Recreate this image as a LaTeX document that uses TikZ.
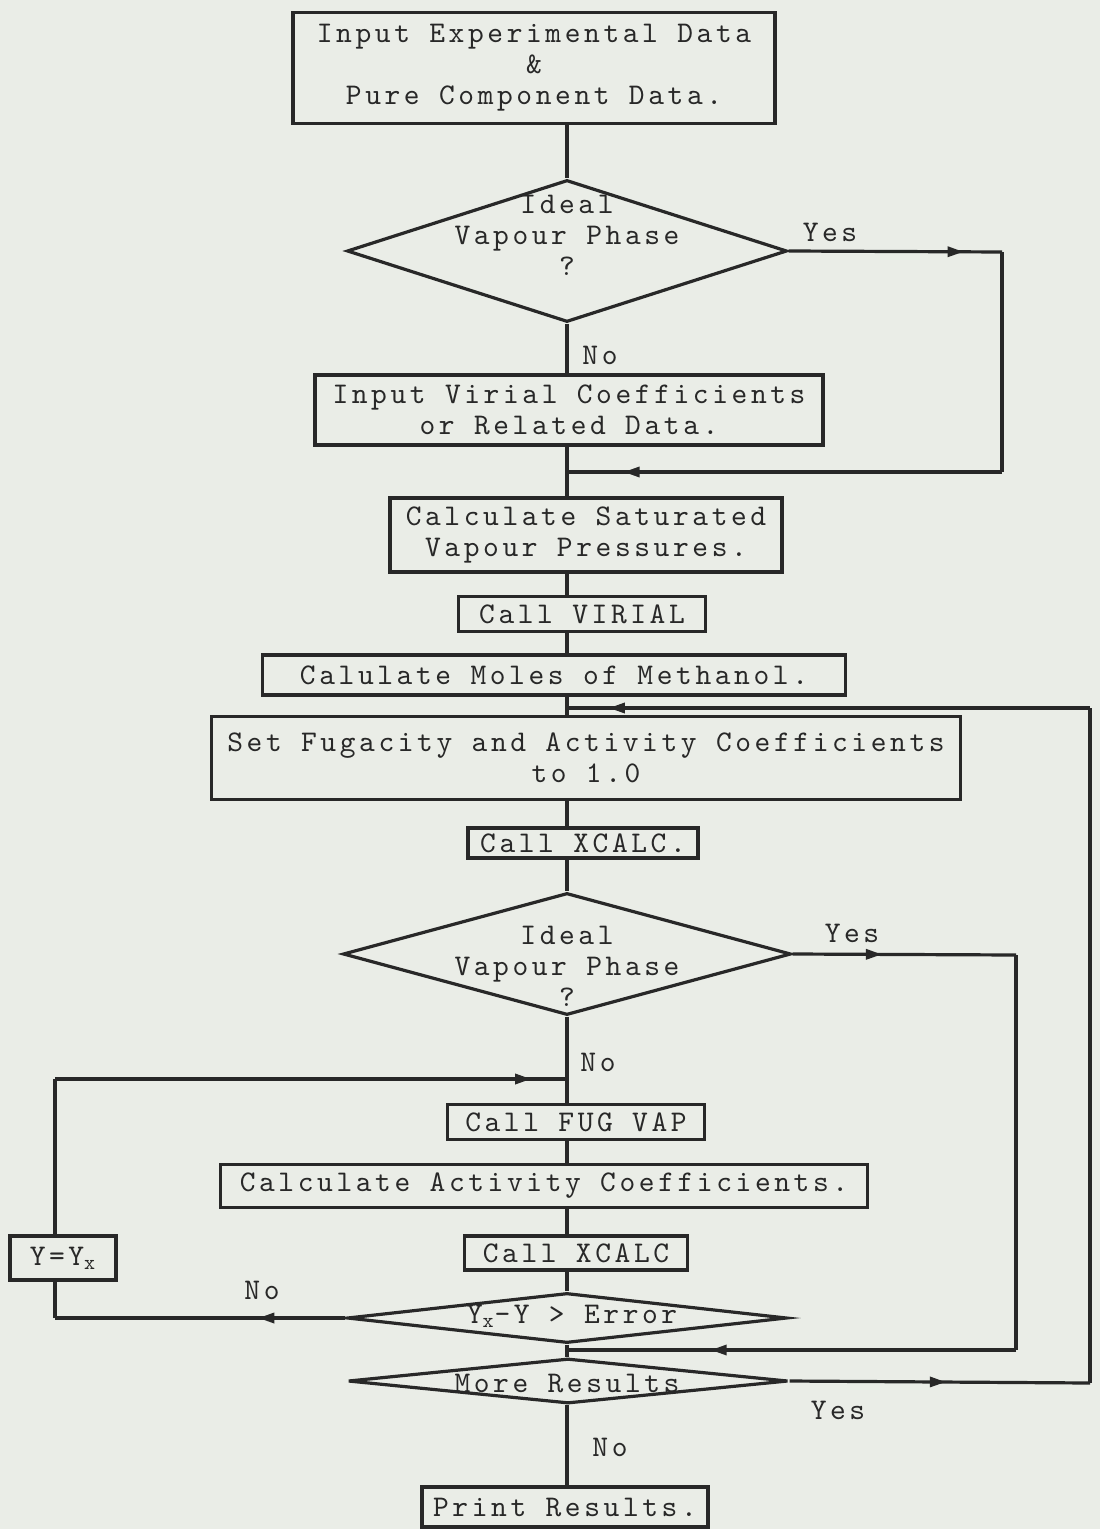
\documentclass[tikz,border=0pt]{standalone}
\usepackage{fontspec}
\setmonofont{lmmono10-regular.otf}[LetterSpace=12]
\usetikzlibrary{shapes.geometric,arrows.meta,decorations.markings}

\definecolor{paper}{RGB}{234,237,231}
\definecolor{ink}{RGB}{40,40,40}

\tikzset{
  every node/.style={font=\ttfamily\fontsize{15}{15.5}\selectfont, text=ink, align=center},
  box/.style={draw=ink, line width=1.6pt, rectangle, inner sep=0pt},
  decision/.style={draw=ink, line width=1.6pt, diamond, inner sep=0pt},
  flow/.style={draw=ink, line width=1.6pt},
  midarrow/.style={postaction={decorate}, decoration={markings,
    mark=at position #1 with {\arrow{Triangle[width=5pt,length=8pt]}}}},
}

\begin{document}
\begin{tikzpicture}[x=0.5pt,y=0.5pt,yscale=-1,xscale=1]
%Paper
\fill[paper] (0,0) rectangle (1100,1529);
\useasboundingbox (0,0) rectangle (1100,1529);
\coordinate (spine) at (567,0);

%Boxes
\node[box, minimum width=241pt, minimum height=55.5pt] (input) at (534,68) {Input Experimental Data\\\&\\Pure Component Data.};
\node[decision, minimum width=220pt, minimum height=71pt] (ideal1) at (567,251) {};
\node (ideal1txt) at (567,235) {Ideal\\Vapour Phase\\?};
\node[box, minimum width=254pt, minimum height=35pt] (virin) at (569,410) {Input Virial Coefficients\\or Related Data.};
\node[box, minimum width=196pt, minimum height=37pt] (satvp) at (586,535) {Calculate Saturated\\Vapour Pressures.};
\node[box, minimum width=123.5pt, minimum height=17.5pt] (virial) at (582,614) {Call VIRIAL};
\node[box, minimum width=291.5pt, minimum height=20pt] (moles) at (554,675) {Calulate Moles of Methanol.};
\node[box, minimum width=374.5pt, minimum height=41.5pt] (setfug) at (586,758) {Set Fugacity and Activity Coefficients\\to 1.0};
\node[box, minimum width=115pt, minimum height=15pt] (xcalc1) at (583,843) {Call XCALC.};
\node[decision, minimum width=224pt, minimum height=61pt] (ideal2) at (567,954) {};
\node (ideal2txt) at (567,966) {Ideal\\Vapour Phase\\?};
\node[box, minimum width=128.5pt, minimum height=17.5pt] (fugvap) at (576,1122) {Call FUG VAP};
\node[box, minimum width=323.5pt, minimum height=21.5pt] (activ) at (544,1186) {Calculate Activity Coefficients.};
\node[box, minimum width=111.5pt, minimum height=17pt] (xcalc2) at (576,1253) {Call XCALC};
\node[decision, minimum width=220pt, minimum height=25pt] (error) at (567,1318) {};
\node (errortxt) at (572,1316) {Y\textsubscript{x}-Y > Error};
\node[decision, minimum width=220pt, minimum height=22.5pt] (more) at (568,1381) {};
\node (moretxt) at (567,1383) {More Results};
\node[box, minimum width=143pt, minimum height=20pt] (print) at (565,1507) {Print Results.};
\node[box, minimum width=53pt, minimum height=22pt] (yset) at (63,1258) {Y=Y\textsubscript{x}};

%Labels
\node (yes1) at (830,232) {Yes};
\node (no1) at (600,355) {No};
\node (yes2) at (852,933) {Yes};
\node (no2) at (598,1062) {No};
\node (no3) at (262,1290) {No};
\node (yes3) at (838,1410) {Yes};
\node (no4) at (610,1447) {No};

%Corners and joins
\coordinate (c1) at (1002,252);
\coordinate (c2) at (1002,472);
\coordinate (j1) at (567,472);
\coordinate (c3) at (1016,955);
\coordinate (c4) at (1016,1350);
\coordinate (j4) at (567,1350);
\coordinate (c5) at (1090,1383);
\coordinate (c6) at (1090,708);
\coordinate (j2) at (567,708);
\coordinate (c7) at (55,1318);
\coordinate (c8) at (55,1079);
\coordinate (j3) at (567,1079);

%Main line
\draw[flow] (input.south -| spine) -- (ideal1.north);
\draw[flow] (ideal1.south) -- (virin.north -| spine);
\draw[flow] (virin.south -| spine) -- (satvp.north -| spine);
\draw[flow] (satvp.south -| spine) -- (virial.north -| spine);
\draw[flow] (virial.south -| spine) -- (moles.north -| spine);
\draw[flow] (moles.south -| spine) -- (setfug.north -| spine);
\draw[flow] (setfug.south -| spine) -- (xcalc1.north -| spine);
\draw[flow] (xcalc1.south -| spine) -- (ideal2.north);
\draw[flow] (ideal2.south) -- (fugvap.north -| spine);
\draw[flow] (fugvap.south -| spine) -- (activ.north -| spine);
\draw[flow] (activ.south -| spine) -- (xcalc2.north -| spine);
\draw[flow] (xcalc2.south -| spine) -- (error.north);
\draw[flow] (error.south) -- (more.north -| error.south);
\draw[flow] (more.south -| spine) -- (print.north -| spine);

%Yes from first test
\draw[flow, midarrow=0.82] (ideal1.east) -- (c1);
\draw[flow] (c1) -- (c2);
\draw[flow, midarrow=0.87] (c2) -- (j1);

%Yes from second test
\draw[flow, midarrow=0.4] (ideal2.east) -- (c3);
\draw[flow] (c3) -- (c4);
\draw[flow, midarrow=0.68] (c4) -- (j4);

%No from error test
\draw[flow, midarrow=0.3] (error.west) -- (c7);
\draw[flow] (c7) -- (yset.south -| c7);
\draw[flow] (yset.north -| c7) -- (c8);
\draw[flow, midarrow=0.93] (c8) -- (j3);

%More results
\draw[flow, midarrow=0.52] (more.east) -- (c5);
\draw[flow] (c5) -- (c6);
\draw[flow, midarrow=0.92] (c6) -- (j2);
\end{tikzpicture}
\end{document}
